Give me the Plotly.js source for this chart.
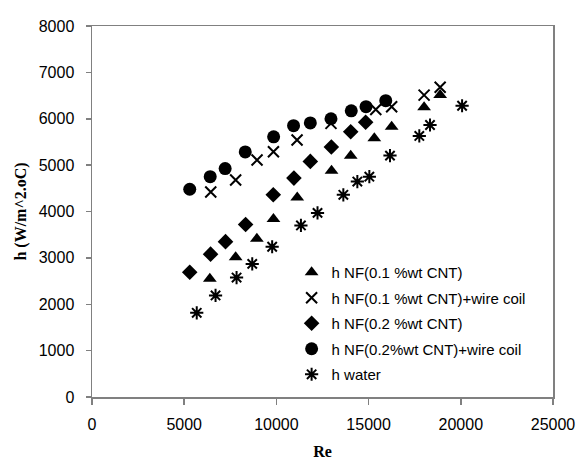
<!DOCTYPE html>
<html>
<head>
<meta charset="utf-8">
<script src="https://cdn.plot.ly/plotly-3.0.1.min.js"></script>
<style>html,body{margin:0;padding:0;background:#fff;}#chart{width:580px;height:474px;}</style>
</head>
<body>
<div id="chart"></div>
<script>
// Data
var reNf01 = [6390, 7790, 8940, 9840, 11130, 12990, 14030, 15310, 16250, 18010, 18880];
var hNf01  = [2550, 3015, 3410, 3840, 4300, 4880, 5200, 5580, 5830, 6250, 6510];

var reNf01Coil = [6440, 7790, 8950, 9840, 11120, 12960, 15390, 16250, 18010, 18880];
var hNf01Coil  = [4420, 4680, 5110, 5290, 5540, 5900, 6200, 6260, 6510, 6680];

var reNf02 = [5300, 6430, 7240, 8330, 9830, 10950, 11840, 12980, 14030, 14840];
var hNf02  = [2690, 3080, 3350, 3720, 4360, 4720, 5080, 5390, 5720, 5925];

var reNf02Coil = [5300, 6410, 7220, 8310, 9850, 10930, 11840, 12960, 14060, 14860, 15930];
var hNf02Coil  = [4480, 4750, 4925, 5285, 5610, 5850, 5910, 6000, 6170, 6260, 6390];

var reWater = [5680, 6700, 7840, 8690, 9770, 11330, 12230, 13630, 14390, 15040, 16160, 17750, 18330, 20070];
var hWater  = [1815, 2190, 2575, 2870, 3240, 3700, 3970, 4360, 4645, 4750, 5205, 5630, 5865, 6280];

var seriesNames = [
  'h NF(0.1 %wt CNT)',
  'h NF(0.1 %wt CNT)+wire coil',
  'h NF(0.2 %wt CNT)',
  'h NF(0.2%wt CNT)+wire coil',
  'h water'
];
var xTicks = [0, 5000, 10000, 15000, 20000, 25000];
var yTicks = [0, 1000, 2000, 3000, 4000, 5000, 6000, 7000, 8000];

var traces = [
  {x: reNf01, y: hNf01, name: seriesNames[0], legendgroup: 'a', type: 'scatter', mode: 'markers',
   marker: {symbol: 'triangle-up', size: 12, color: '#000'}},
  {x: reNf01Coil, y: hNf01Coil, name: seriesNames[1], legendgroup: 'b', type: 'scatter', mode: 'markers',
   marker: {symbol: 'x-thin-open', size: 11, color: '#000', line: {color: '#000', width: 2}}},
  {x: reNf02, y: hNf02, name: seriesNames[2], legendgroup: 'c', type: 'scatter', mode: 'markers',
   marker: {symbol: 'diamond', size: 12, color: '#000'}},
  {x: reNf02Coil, y: hNf02Coil, name: seriesNames[3], legendgroup: 'd', type: 'scatter', mode: 'markers',
   marker: {symbol: 'circle', size: 13, color: '#000'}},
  {x: reWater, y: hWater, name: seriesNames[4], legendgroup: 'e', type: 'scatter', mode: 'markers',
   marker: {symbol: 'asterisk-open', size: 11, color: '#000', line: {color: '#000', width: 2}}}
];

var layout = {
  width: 580, height: 474,
  margin: {l: 92, r: 27, t: 26, b: 77, pad: 0},
  paper_bgcolor: '#fff', plot_bgcolor: '#fff',
  showlegend: true,
  font: {family: 'Liberation Sans, Arial, sans-serif', size: 16, color: '#000'},
  xaxis: {
    range: [0, 25000], tickvals: xTicks, ticktext: xTicks.map(String),
    showgrid: false, zeroline: false,
    showline: true, linecolor: '#808080', linewidth: 1.5, mirror: true,
    ticks: 'outside', ticklen: 6, tickcolor: '#808080', tickwidth: 1.5,
    ticklabelstandoff: 6,
    tickfont: {family: 'Liberation Sans, Arial, sans-serif', size: 16, color: '#000'},
    title: {text: 'Re', font: {family: 'Liberation Serif, Times New Roman, serif', size: 16, color: '#000', weight: 'bold'}, standoff: 14}
  },
  yaxis: {
    range: [0, 8000], tickvals: yTicks, ticktext: yTicks.map(String),
    showgrid: false, zeroline: false,
    showline: true, linecolor: '#808080', linewidth: 1.5, mirror: true,
    ticks: 'outside', ticklen: 5, tickcolor: '#808080', tickwidth: 1.5,
    ticklabelstandoff: 8,
    tickfont: {family: 'Liberation Sans, Arial, sans-serif', size: 16, color: '#000'},
    title: {text: 'h (W/m^2.oC)', font: {family: 'Liberation Serif, Times New Roman, serif', size: 16, color: '#000', weight: 'bold'}, standoff: 8}
  },
  legend: {
    x: 0.433, y: 0.38, xanchor: 'left', yanchor: 'top',
    bgcolor: 'rgba(0,0,0,0)', borderwidth: 0,
    font: {family: 'Liberation Sans, Arial, sans-serif', size: 15, color: '#000'},
    traceorder: 'grouped', tracegroupgap: 3, itemwidth: 30
  }
};

Plotly.newPlot('chart', traces, layout, {displayModeBar: false, staticPlot: true});
</script>
</body>
</html>
